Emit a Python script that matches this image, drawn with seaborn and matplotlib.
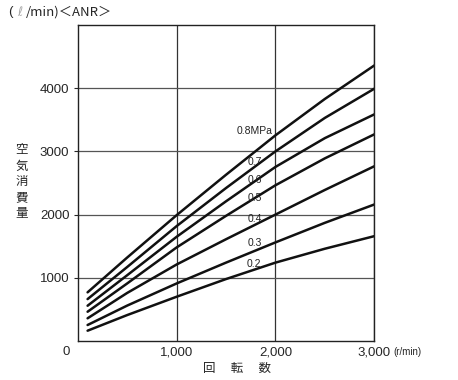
import matplotlib
matplotlib.use("Agg")
import matplotlib.pyplot as plt
import seaborn as sns
import pandas as pd

rpm = [100, 500, 1000, 1500, 2000, 2500, 3000]
p08 = [770, 1320, 1990, 2630, 3254, 3830, 4360]
p07 = [663, 1170, 1817, 2420, 3000, 3530, 3992]
p06 = [558, 1040, 1648, 2210, 2754, 3210, 3586]
p05 = [463, 910, 1480, 1980, 2464, 2890, 3270]
p04 = [359, 760, 1210, 1610, 2000, 2390, 2765]
p03 = [253, 560, 910, 1240, 1560, 1870, 2160]
p02 = [163, 410, 700, 980, 1240, 1460, 1659]

series = {"0.8MPa": p08, "0.7": p07, "0.6": p06, "0.5": p05,
          "0.4": p04, "0.3": p03, "0.2": p02}
label_pos = {"0.8MPa": (1975, 3330), "0.7": (1860, 2830), "0.6": (1860, 2540),
             "0.5": (1860, 2270), "0.4": (1860, 1925), "0.3": (1860, 1550),
             "0.2": (1860, 1215)}

xticks = [1000, 2000, 3000]
xticklabels = ["1,000", "2,000", "3,000"]
yticks = [1000, 2000, 3000, 4000]
yticklabels = ["1000", "2000", "3000", "4000"]

rows = []
for name, vals in series.items():
    for x, y in zip(rpm, vals):
        rows.append({"rpm": x, "flow": y, "p": name})
df = pd.DataFrame(rows)

sns.set_style("white")
plt.rcParams["font.family"] = ["Liberation Sans", "Noto Sans CJK JP", "DejaVu Sans"]

W, H = 458, 380
fig = plt.figure(figsize=(W / 100, H / 100), dpi=100)
ax = fig.add_axes([77.7 / W, 1 - 341 / H, (374.3 - 77.7) / W, (341 - 25) / H])

sns.lineplot(data=df, x="rpm", y="flow", hue="p", palette=["#111111"] * 7,
             linewidth=1.8, legend=False, ax=ax, sort=False)

ax.set_xlim(0, 3000)
ax.set_ylim(0, 5000)
ax.set_xticks(xticks)
ax.set_xticklabels(xticklabels, fontsize=9.5)
ax.set_yticks(yticks)
ax.set_yticklabels(yticklabels, fontsize=9.5)
ax.tick_params(axis="x", length=0, pad=4)
ax.tick_params(axis="y", length=3, width=0.8, pad=3, direction="out", left=True)
ax.set_xlabel("")
ax.set_ylabel("")
for xv in xticks:
    ax.axvline(xv, color="#333333", lw=0.9, zorder=0)
for yv in yticks:
    ax.axhline(yv, color="#555555", lw=0.9, zorder=0)
for s in ax.spines.values():
    s.set_color("#222222")
    s.set_linewidth(1.0)

for name, (lx, ly) in label_pos.items():
    ax.text(lx, ly, name, fontsize=7.5, ha="right", va="center", color="#222222")

fig.text(66 / W, 1 - 352 / H, "0", fontsize=9.5, ha="center", va="center")
fig.text(393 / W, 1 - 352 / H, "(r/min)", fontsize=7, ha="left", va="center")
jp = ["Noto Sans CJK JP", "DejaVu Sans"]
fig.text(237 / W, 1 - 368 / H, "回　 転　 数", fontsize=9, ha="center", va="center", family=jp)
fig.text(22 / W, 1 - 182 / H, "空\n気\n消\n費\n量", fontsize=9, ha="center", va="center",
         family=jp, linespacing=1.3)
fig.text(8 / W, 1 - 12 / H, "(", fontsize=9.5, ha="left", va="center")
fig.text(17 / W, 1 - 12 / H, "ℓ", fontsize=9, ha="left", va="center", color="#aaaaaa",
         family=["DejaVu Sans"])
fig.text(26 / W, 1 - 12 / H, "/min)＜ANR＞", fontsize=9.5, ha="left", va="center", family=jp)

fig.savefig("out.png", dpi=100)
